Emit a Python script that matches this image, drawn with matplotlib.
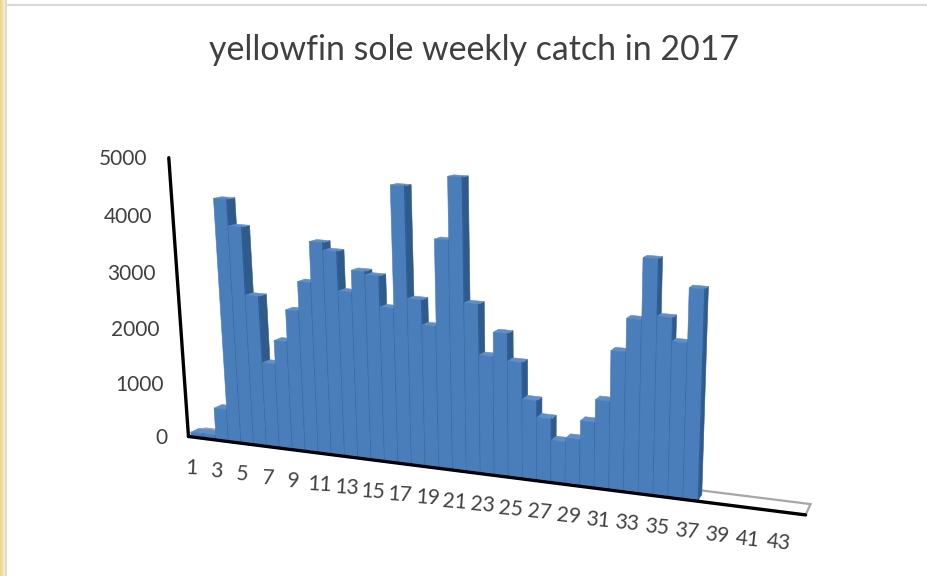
import numpy as np
import matplotlib
matplotlib.use("Agg")
import matplotlib.pyplot as plt

plt.rcParams["font.family"] = ["Lato", "DejaVu Sans"]

weeks = list(range(1, 38))
catch = [60, 60, 570, 4350, 3890, 2700, 1510, 1940, 2510, 3030, 3740, 3610, 2930, 3310, 3250, 2720,
         4800, 2910, 2480, 3960, 5010, 2930, 2060, 2480, 2010, 1380, 1090, 720, 790, 1120, 1510,
         2370, 2930, 3940, 3010, 2620, 3520]
value_ticks = [0, 1000, 2000, 3000, 4000, 5000]
week_ticks = list(range(1, 44, 2))
title = "yellowfin sole weekly catch in 2017"

N_WEEKS = 44
VMAX = 5000
TEXT = "#404040"
FRONT, SIDE, TOP, SEAM = "#4a7ebb", "#2f5a8c", "#5f8fcb", "#2f5f96"

# 透视标定：(周, 值, 深度) -> 画布像素
calib = [((0, 0, 0), (186, 437)), ((0, 5000, 0), (172, 157)),
         ((44, 0, 0), (805, 516)), ((44, 5000, 0), (822, 203)),
         ((0, 0, 1), (208, 428)), ((44, 0, 1), (811, 503)),
         ((0, 5000, 1), (184, 156)), ((44, 5000, 1), (827, 201))]


def fit_camera(pts):
    A, b = [], []
    for (w, v, d), (x, y) in pts:
        v = v / 1000
        A.append([w, v, d, 1, 0, 0, 0, 0, -x * w, -x * v, -x * d]); b.append(x)
        A.append([0, 0, 0, 0, w, v, d, 1, -y * w, -y * v, -y * d]); b.append(y)
    p = np.linalg.lstsq(np.array(A, float), np.array(b, float), rcond=None)[0]
    return np.append(p, 1.0).reshape(3, 4)


CAM = fit_camera(calib)


def proj(w, v, d=0.0):
    q = CAM @ np.array([w, v / 1000, d, 1.0])
    return q[0] / q[2], q[1] / q[2]


def face(ax, corners, color, **kw):
    xs, ys = zip(*[proj(*c) for c in corners])
    ax.fill(xs, ys, color=color, lw=kw.pop("lw", 0.4), **kw)


fig = plt.figure(figsize=(9.28, 5.76), dpi=100)
ax = fig.add_axes([0, 0, 1, 1])

# 幻灯片背景：左侧黄带 + 顶部灰线
band = np.array([[0.93, 0.84, 0.58], [0.96, 0.89, 0.66], [0.99, 0.95, 0.77]])[None, :, :]
ax.imshow(band, extent=(0, 6, 576, 0), aspect="auto", interpolation="bilinear")
ax.plot([6.5, 6.5], [0, 576], color="#d9d9d9", lw=1.4)
ax.plot([7, 928], [5, 5], color="#d9d9d9", lw=1.6)

# 底面
xs, ys = zip(*[proj(0, 0, 0), proj(N_WEEKS, 0, 0), proj(N_WEEKS, 0, 1), proj(0, 0, 1)])
ax.fill(xs, ys, facecolor="white", edgecolor="#a6a6a6", lw=1.6)

# 柱子，从左到右画
D0, D1 = 0.15, 0.62
for wk, val in zip(weeks, catch):
    l, r = wk - 1, wk
    face(ax, [(r, 0, D0), (r, 0, D1), (r, val, D1), (r, val, D0)], SIDE, zorder=3)
    face(ax, [(l, val, D0), (r, val, D0), (r, val, D1), (l, val, D1)], TOP, zorder=3)
    face(ax, [(l, 0, D0), (r, 0, D0), (r, val, D0), (l, val, D0)], FRONT, zorder=3)
    xs, ys = zip(proj(r, 0, D0), proj(r, val, D0))
    ax.plot(xs, ys, color=SEAM, lw=1.0, zorder=3)

# 坐标轴线
xs, ys = zip(proj(0, 0), proj(N_WEEKS, 0))
ax.plot(xs, ys, color="black", lw=2.4, zorder=4, solid_capstyle="round")
xs, ys = zip(proj(0, 0), proj(0, VMAX))
ax.plot(xs, ys, color="black", lw=2.4, zorder=4, solid_capstyle="round")

# 刻度标签
for v in value_ticks:
    x, y = proj(0, v)
    ax.text(x - 21, y + 2 - v / 5000, str(v), ha="right", va="center", fontsize=15, color=TEXT)
for wk in week_ticks:
    x, y = proj(wk - 0.5, 0)
    ax.text(x - 3, y + 31, str(wk), ha="center", va="center", fontsize=15, color=TEXT,
            rotation=-2 - 5 * wk / N_WEEKS, rotation_mode="anchor")

ax.text(474, 50, title, ha="center", va="center", fontsize=24.4, color=TEXT)

ax.set_xlim(0, 928)
ax.set_ylim(576, 0)
ax.axis("off")
fig.savefig("out.png", dpi=100)
